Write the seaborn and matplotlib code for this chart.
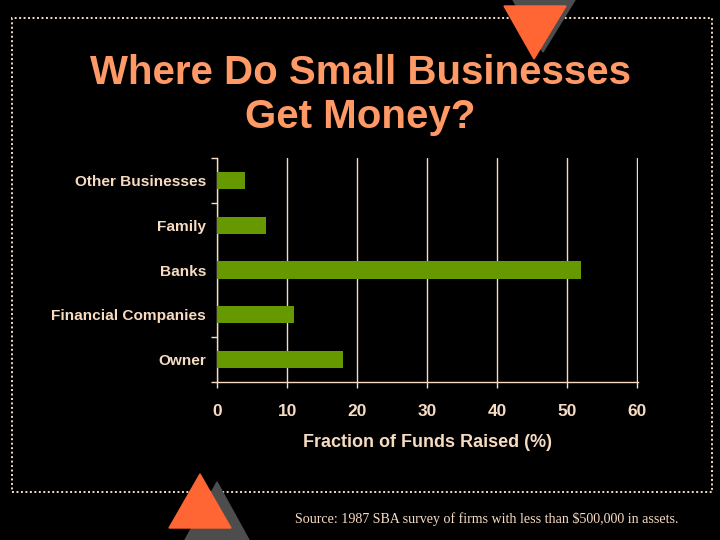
import matplotlib
matplotlib.use("Agg")
import matplotlib.pyplot as plt
import seaborn as sns
from matplotlib.patches import Polygon, Rectangle

# data
categories = ["Other Businesses", "Family", "Banks", "Financial Companies", "Owner"]
values = [4, 7, 52, 11, 18]
x_ticks = [0, 10, 20, 30, 40, 50, 60]

# colours
BG = "#000000"
BAR = "#669900"
PEACH = "#F7DCC2"
ORANGE = "#FF9966"
TRI = "#FF6633"
GREY = "#4D4D4D"

sns.set_style("white")
plt.rcParams["font.family"] = ["Liberation Sans", "DejaVu Sans"]
plt.rcParams["savefig.facecolor"] = BG

W, H = 720, 540
fig = plt.figure(figsize=(7.2, 5.4), dpi=100, facecolor=BG)


def fxy(x, y):
    return (x / W, 1 - y / H)


# decorative triangles and dotted frame
fig.patches.append(Polygon([fxy(513, 0), fxy(575, 0), fxy(543, 52)], closed=True,
                           transform=fig.transFigure, color=GREY, zorder=1))
fig.patches.append(Polygon([fxy(504, 6), fxy(566, 6), fxy(534, 59)], closed=True,
                           transform=fig.transFigure, color=TRI, zorder=2))
fig.patches.append(Rectangle(fxy(12, 492), 700 / W, 474 / H, transform=fig.transFigure,
                             fill=False, edgecolor=PEACH, lw=1.4,
                             linestyle=(0, (1, 1.3)), zorder=0))
fig.patches.append(Polygon([fxy(217, 482), fxy(185, 540), fxy(249, 540)], closed=True,
                           transform=fig.transFigure, color=GREY, zorder=3))
fig.patches.append(Polygon([fxy(200, 474), fxy(169, 528), fxy(231, 528)], closed=True,
                           transform=fig.transFigure, color=TRI, zorder=4))

ax = fig.add_axes([217 / W, 1 - 382 / H, 421 / W, 224 / H])
ax.set_facecolor(BG)

sns.barplot(x=values, y=categories, orient="h", color=BAR, saturation=1,
            width=0.38, linewidth=0, edgecolor=BAR, ax=ax, zorder=3)

ax.set_xlim(0, 60.08)
ax.set_ylim(4.5, -0.5)
ax.set_xticks(x_ticks)
ax.xaxis.grid(True, color=PEACH, lw=1.0)
ax.set_axisbelow(True)

for s in ["top", "right"]:
    ax.spines[s].set_visible(False)
for s in ["left", "bottom"]:
    ax.spines[s].set_color(PEACH)
    ax.spines[s].set_linewidth(1.0)

ax.tick_params(axis="x", bottom=True, colors=PEACH, length=4.5, width=1.0,
               direction="out", pad=11, labelsize=12.5)
ax.tick_params(axis="y", which="major", left=False, length=0, pad=8, colors=PEACH,
               labelsize=11.1)
# only some category boundaries carry a tick mark in the original
ax.set_yticks([-0.5, 0.5, 3.5, 4.5], minor=True)
ax.tick_params(axis="y", which="minor", left=True, length=4.5, width=1.0, color=PEACH,
               direction="out")
for lab in ax.get_xticklabels() + ax.get_yticklabels():
    lab.set_fontweight("bold")
    lab.set_color(PEACH)

ax.set_xlabel("Fraction of Funds Raised (%)", color=PEACH, fontsize=13,
              fontweight="bold", labelpad=11)
ax.set_ylabel("")

fig.text(360 / W, 1 - 95 / H, "Where Do Small Businesses\nGet Money?", ha="center",
         va="center", color=ORANGE, fontsize=29, fontweight="bold", linespacing=1.18)

fig.text(295 / W, 1 - 519 / H, "Source: 1987 SBA survey of firms with less than $500,000 in assets.",
         ha="left", va="center", color=PEACH, fontsize=10.1,
         family=["Liberation Serif", "DejaVu Serif"])

fig.savefig("out.png", dpi=100, facecolor=BG)
